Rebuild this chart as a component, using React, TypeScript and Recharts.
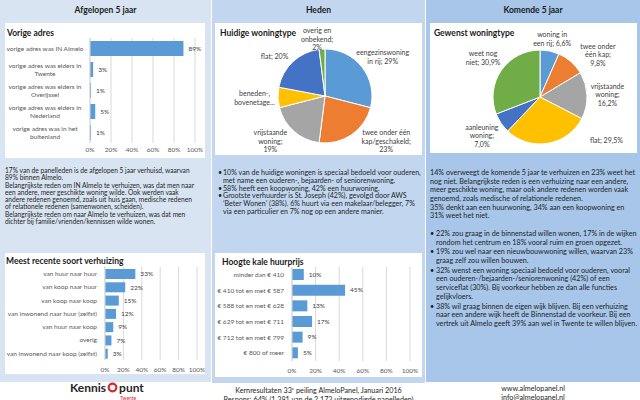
import React from 'react';
import { BarChart, Bar, XAxis, YAxis, CartesianGrid, LabelList, PieChart, Pie, Cell } from 'recharts';

const FONT = 'Lato, "Open Sans", sans-serif';
const BAR_BLUE = '#5b9bd5';
const AXIS_TEXT = '#595959';
const LABEL_TEXT = '#404040';
const GRID = '#d9d9d9';

// Afgelopen 5 jaar: vorige adres
const prevAddressCats = [
  'vorige adres was IN Almelo',
  'vorige adres was elders in\nTwente',
  'vorige adres was elders in\nOverijssel',
  'vorige adres was elders in\nNederland',
  'vorige adres was in het\nbuitenland',
];
const prevAddressPct = [89, 3, 1, 5, 1];

// meest recente soort verhuizing
const moveCats = [
  'van huur naar huur',
  'van koop naar huur',
  'van koop naar koop',
  'van inwonend naar huur (zelfst)',
  'van huur naar koop',
  'overig',
  'van inwonend naar koop (zelfst)',
];
const movePct = [33, 22, 15, 12, 9, 7, 3];

// hoogte kale huurprijs
const rentCats = [
  'minder dan € 410',
  '€ 410 tot en met € 587',
  '€ 588 tot en met € 628',
  '€ 629 tot en met € 711',
  '€ 712 tot en met € 799',
  '€ 800 of meer',
];
const rentPct = [10, 45, 13, 17, 9, 5];

const pctTicks = [0, 20, 40, 60, 80, 100];

// Heden: huidige woningtype
const currentTypes = ['eengezinswoning in rij', 'twee onder één kap/geschakeld', 'vrijstaande woning', 'beneden-, bovenetage', 'flat', 'overig en onbekend'];
const currentShares = [29, 23, 19, 7, 20, 2];
const currentLabels = ['eengezinswoning\nin rij; {v}', 'twee onder één\nkap/geschakeld;\n{v}', 'vrijstaande\nwoning;\n{v}', 'beneden-,\nbovenetage...', 'flat; {v}', 'overig en\nonbekend;\n{v}'];

// Komende 5 jaar: gewenst woningtype
const wishedTypes = ['woning in een rij', 'twee onder één kap', 'vrijstaande woning', 'flat', 'aanleuning woning', 'weet nog niet'];
const wishedShares = [6.6, 9.8, 16.2, 29.5, 7.0, 30.9];
const wishedLabels = ['woning in\neen rij; {v}', 'twee onder\néén kap;\n{v}', 'vrijstaande\nwoning;\n{v}', 'flat; {v}', 'aanleuning\nwoning;\n{v}', 'weet nog\nniet; {v}'];

const sliceColors = ['#5b9bd5', '#ed7d31', '#a5a5a5', '#ffc000', '#4472c4', '#70ad47'];

const makeTick = (anchor: 'middle' | 'end', shift: number) => (props: any) => {
  const { x, y, payload } = props;
  const lines = String(payload.value).split('\n');
  const lh = 8;
  return (
    <text x={x + shift} y={y} textAnchor={anchor} fontSize={6.5} fill={AXIS_TEXT} fontFamily={FONT}>
      {lines.map((l, i) => (
        <tspan key={i} x={x + shift} dy={i === 0 ? 2.3 - ((lines.length - 1) * lh) / 2 : lh}>{l}</tspan>
      ))}
    </text>
  );
};

function HBar(props: any) {
  const { cats, vals, width, height, yWidth, margin, barSize, tick, xHeight, tickGap } = props;
  const data = cats.map((c: string, i: number) => ({ name: c, value: vals[i] }));
  return (
    <BarChart layout="vertical" width={width} height={height} data={data} margin={margin}>
      <CartesianGrid horizontal={false} stroke={GRID} />
      <XAxis
        type="number"
        domain={[0, 100]}
        ticks={pctTicks}
        interval={0}
        tickFormatter={(v: number) => v + '%'}
        axisLine={false}
        tickLine={false}
        tickSize={0}
        tickMargin={tickGap}
        height={xHeight}
        tick={{ fontSize: 6.5, fill: AXIS_TEXT, fontFamily: FONT }}
      />
      <YAxis
        type="category"
        dataKey="name"
        width={yWidth}
        interval={0}
        axisLine={{ stroke: GRID }}
        tickLine={false}
        tickSize={0}
        tickMargin={8}
        tick={tick}
      />
      <Bar dataKey="value" fill={BAR_BLUE} barSize={barSize} isAnimationActive={false}>
        <LabelList
          dataKey="value"
          position="right"
          offset={5}
          formatter={(v: any) => v + '%'}
          style={{ fontSize: 6.5, fill: LABEL_TEXT, fontFamily: FONT }}
        />
      </Bar>
    </BarChart>
  );
}

const clamp = (v: number, lo: number, hi: number) => Math.max(lo, Math.min(hi, v));

// places each label just outside the pie, pushed clear of the circle and kept inside the box
const makePieLabel = (tpls: string[], vals: number[], fmt: (v: number) => string, bottom: number, nudges: Record<number, number[]>) => (p: any) => {
  const { cx, cy, midAngle, outerRadius, index } = p;
  const lines = tpls[index].replace('{v}', fmt(vals[index])).split('\n');
  const lh = 8.4;
  const w = Math.max(...lines.map((l) => l.length)) * 3.3;
  const h = lines.length * lh;
  const rad = (midAngle * Math.PI) / 180;
  const ux = Math.cos(rad);
  const uy = -Math.sin(rad);
  const clear = (x: number, y: number) => {
    const nx = clamp(cx, x - w / 2, x + w / 2);
    const ny = clamp(cy, y - h / 2, y + h / 2);
    return Math.hypot(nx - cx, ny - cy) > outerRadius + 2;
  };
  let d = outerRadius;
  while (!clear(cx + ux * d, cy + uy * d) && d < 200) d += 0.5;
  let x = cx + ux * d;
  let y = cy + uy * d;
  if (y + h / 2 > bottom) {
    y = bottom - h / 2;
    const s = ux >= 0 ? 1 : -1;
    let n = 0;
    while (!clear(x, y) && n < 300) { x += s * 0.5; n++; }
  }
  const nd = nudges[index] || [0, 0];
  x += nd[0];
  y += nd[1];
  return (
    <text x={x} y={y} textAnchor="middle" fontSize={7} fill={LABEL_TEXT} fontFamily={FONT}>
      {lines.map((l, i) => (
        <tspan key={i} x={x} dy={i === 0 ? 2.4 - ((lines.length - 1) * lh) / 2 : lh}>{l}</tspan>
      ))}
    </text>
  );
};

function TypePie(props: any) {
  const { names, vals, tpls, fmt, width, height, cx, cy, nudges } = props;
  const data = names.map((n: string, i: number) => ({ name: n, value: vals[i] }));
  return (
    <PieChart width={width} height={height} margin={{ top: 0, right: 0, bottom: 0, left: 0 }}>
      <Pie
        data={data}
        dataKey="value"
        nameKey="name"
        cx={cx}
        cy={cy}
        outerRadius={47}
        startAngle={90}
        endAngle={-270}
        stroke="#ffffff"
        strokeWidth={1}
        labelLine={false}
        label={makePieLabel(tpls, vals, fmt, height - 1, nudges)}
        isAnimationActive={false}
      >
        {data.map((_: any, i: number) => (
          <Cell key={i} fill={sliceColors[i]} />
        ))}
      </Pie>
    </PieChart>
  );
}

const leftText = [
  '17% van de panelleden is de afgelopen 5 jaar verhuisd, waarvan',
  '89% binnen Almelo.',
  'Belangrijkste reden om IN Almelo te verhuizen, was dat men naar',
  'een andere, meer geschikte woning wilde. Ook werden vaak',
  'andere redenen genoemd, zoals uit huis gaan, medische redenen',
  'of relationele redenen (samenwonen, scheiden).',
  'Belangrijkste reden om naar Almelo te verhuizen, was dat men',
  'dichter bij familie/vrienden/kennissen wilde wonen.',
];

const midBullets = [
  ['10% van de huidige woningen is speciaal bedoeld voor ouderen,', 'met name een ouderen-, bejaarden- of seniorenwoning.'],
  ['58% heeft een koopwoning, 42% een huurwoning.'],
  ['Grootste verhuurder is St. Joseph (42%), gevolgd door AWS', '\u2018Beter Wonen\u2019 (38%). 6% huurt via een makelaar/belegger, 7%', 'via een particulier en 7% nog op een andere manier.'],
];

const rightText = [
  '14% overweegt de komende 5 jaar te verhuizen en 23% weet het',
  'nog niet. Belangrijkste reden is een verhuizing naar een andere,',
  'meer geschikte woning, maar ook andere redenen worden vaak',
  'genoemd, zoals medische of relationele redenen.',
  '35% denkt aan een huurwoning, 34% aan een koopwoning en',
  '31% weet het niet.',
];

const rightBullets = [
  ['22% zou graag in de binnenstad willen wonen, 17% in de wijken', 'rondom het centrum en 18% vooral ruim en groen opgezet.'],
  ['19% zou wel naar een nieuwbouwwoning willen, waarvan 23%', 'graag zelf zou willen bouwen.'],
  ['32% wenst een woning speciaal bedoeld voor ouderen, vooral', 'een ouderen-/bejaarden-/seniorenwoning (42%) of een', 'serviceflat (30%). Bij voorkeur hebben ze dan alle functies', 'gelijkvloers.'],
  ['38% wil graag binnen de eigen wijk blijven. Bij een verhuizing', 'naar een andere wijk heeft de Binnenstad de voorkeur. Bij een', 'vertrek uit Almelo geeft 39% aan wel in Twente te willen blijven.'],
];

const abs = (left: number, top: number, extra: React.CSSProperties = {}): React.CSSProperties => ({ position: 'absolute', left, top, ...extra });

function Lines({ lines, left, top, lh, size }: any) {
  return (
    <div style={abs(left, top)}>
      {lines.map((l: string, i: number) => (
        <div key={i} style={{ height: lh, lineHeight: lh + 'px', fontSize: size, whiteSpace: 'nowrap', color: '#1e1e1e' }}>{l}</div>
      ))}
    </div>
  );
}

function Bullets({ items, left, top, lh, size, gap, indent }: any) {
  return (
    <div style={abs(left, top)}>
      {items.map((it: string[], i: number) => (
        <div key={i} style={{ position: 'relative', paddingLeft: indent, marginBottom: gap }}>
          <span style={{ position: 'absolute', left: 0, top: 0, fontSize: size, lineHeight: lh + 'px' }}>•</span>
          {it.map((l, j) => (
            <div key={j} style={{ height: lh, lineHeight: lh + 'px', fontSize: size, whiteSpace: 'nowrap', color: '#1e1e1e' }}>{l}</div>
          ))}
        </div>
      ))}
    </div>
  );
}

const boxTitle: React.CSSProperties = { position: 'absolute', fontSize: 8.5, fontWeight: 700, color: '#1a1a1a', whiteSpace: 'nowrap' };
const header: React.CSSProperties = { position: 'absolute', top: 5, fontSize: 8.5, fontWeight: 700, color: '#1a1a1a', textAlign: 'center' };

export default function App() {
  const pct0 = (v: number) => v + '%';
  const pct1 = (v: number) => v.toFixed(1).replace('.', ',') + '%';
  return (
    <div style={{ position: 'absolute', left: 0, top: 0, width: 640, height: 400, overflow: 'hidden', background: '#ffffff', fontFamily: FONT, color: '#1e1e1e' }}>
      {/* column backgrounds */}
      <div style={abs(0, 0, { width: 211, height: 382, background: '#d8e4f2' })} />
      <div style={abs(212, 0, { width: 213, height: 383, background: '#c2d7ef' })} />
      <div style={abs(426, 0, { width: 214, height: 382, background: '#a7c6e9' })} />

      <div style={{ ...header, left: 0, width: 211 }}>Afgelopen 5 jaar</div>
      <div style={{ ...header, left: 212, width: 213 }}>Heden</div>
      <div style={{ ...header, left: 426, width: 214 }}>Komende 5 jaar</div>

      {/* left top: vorige adres */}
      <div style={abs(5, 23, { width: 200, height: 135, background: '#fff' })}>
        <div style={{ ...boxTitle, left: 2, top: 5 }}>Vorige adres</div>
        <HBar
          cats={prevAddressCats}
          vals={prevAddressPct}
          width={200}
          height={135}
          yWidth={85}
          margin={{ top: 15, right: 10, bottom: 3, left: 0 }}
          barSize={15}
          xHeight={12}
          tickGap={4}
          tick={makeTick('middle', -37)}
        />
      </div>

      <Lines lines={leftText} left={5} top={167} lh={7.3} size={6.65} />

      {/* left bottom: meest recente soort verhuizing */}
      <div style={abs(5, 253, { width: 200, height: 121, background: '#fff' })}>
        <div style={{ ...boxTitle, left: 1, top: 3 }}>Meest recente soort verhuizing</div>
        <HBar
          cats={moveCats}
          vals={movePct}
          width={200}
          height={121}
          yWidth={100}
          margin={{ top: 14, right: 8, bottom: 1, left: 0 }}
          barSize={10}
          xHeight={13}
          tickGap={7}
          tick={makeTick('end', 0)}
        />
      </div>

      {/* middle top: huidige woningtype */}
      <div style={abs(215, 23, { width: 207, height: 132, background: '#fff' })}>
        <div style={{ ...boxTitle, left: 5, top: 5 }}>Huidige woningtype</div>
        <TypePie
          names={currentTypes}
          vals={currentShares}
          tpls={currentLabels}
          fmt={pct0}
          width={207}
          height={132}
          cx={110}
          cy={73}
          nudges={{ 0: [0, 6], 4: [-8, 6], 5: [-4, 5] }}
        />
      </div>

      <Bullets items={midBullets} left={218} top={169} lh={7.8} size={7.1} gap={0} indent={5} />

      {/* middle bottom: hoogte kale huurprijs */}
      <div style={abs(215, 253, { width: 207, height: 124, background: '#fff' })}>
        <div style={{ ...boxTitle, left: 7, top: 4 }}>Hoogte kale huurprijs</div>
        <HBar
          cats={rentCats}
          vals={rentPct}
          width={207}
          height={124}
          yWidth={77}
          margin={{ top: 14, right: 12, bottom: 2, left: 0 }}
          barSize={11}
          xHeight={14}
          tickGap={7}
          tick={makeTick('end', 0)}
        />
      </div>

      {/* right top: gewenst woningtype */}
      <div style={abs(430, 23, { width: 207, height: 130, background: '#fff' })}>
        <div style={{ ...boxTitle, left: 4, top: 5 }}>Gewenst woningtype</div>
        <TypePie
          names={wishedTypes}
          vals={wishedShares}
          tpls={wishedLabels}
          fmt={pct1}
          width={207}
          height={130}
          cx={110}
          cy={74}
          nudges={{ 1: [12, 10], 3: [33, -7] }}
        />
      </div>

      <Lines lines={rightText} left={430} top={169} lh={8.7} size={7.2} />
      <Bullets items={rightBullets} left={430} top={230} lh={8.7} size={7.2} gap={1} indent={6} />

      {/* footer */}
      <div style={abs(70, 381, { whiteSpace: 'nowrap', fontWeight: 700, fontSize: 12, color: '#262626', lineHeight: '14px' })}>
        Kennis
        <svg width={11} height={11} style={{ verticalAlign: '-1px', margin: '0 1px' }}>
          <circle cx={5.5} cy={5.5} r={3.8} fill="none" stroke="#d7282f" strokeWidth={2.2} />
        </svg>
        punt
      </div>
      <div style={abs(120, 394.5, { fontSize: 5, lineHeight: '6px', color: '#d7282f' })}>Twente</div>

      <div style={abs(212, 384, { width: 213, textAlign: 'center', fontSize: 7.2, lineHeight: '9px', color: '#1e1e1e' })}>
        <div>Kernresultaten 33<sup style={{ fontSize: 4.5 }}>e</sup> peiling AlmeloPanel, Januari 2016</div>
        <div>Respons: 64% (1.381 van de 2.173 uitgenodigde panelleden)</div>
      </div>

      <div style={abs(426, 384, { width: 214, textAlign: 'center', fontSize: 7.2, lineHeight: '9px', color: '#1e1e1e' })}>
        <div>www.almelopanel.nl</div>
        <div>info@almelopanel.nl</div>
      </div>
    </div>
  );
}
